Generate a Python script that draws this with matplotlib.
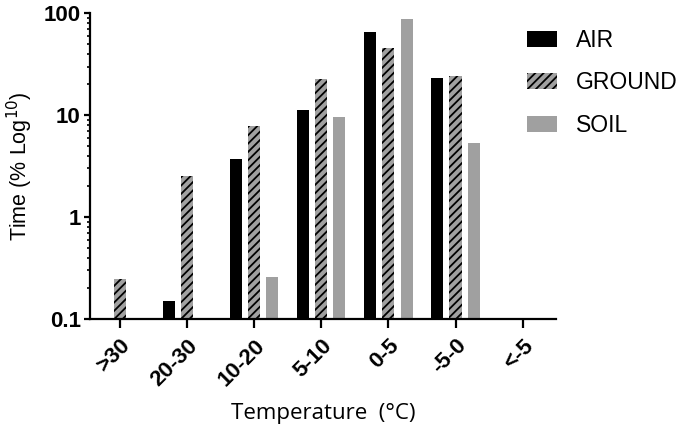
import numpy as np
import matplotlib.pyplot as plt
from matplotlib.ticker import LogLocator, NullFormatter

# Values (percent of time, log axis); NaN = no bar
categories = ['>30', '20-30', '10-20', '5-10', '0-5', '-5-0', '<-5']
air = [np.nan, 0.15, 3.7, 11.2, 65.0, 23.0, np.nan]
ground = [0.25, 2.55, 7.9, 22.4, 46.0, 24.0, np.nan]
soil = [np.nan, np.nan, 0.26, 9.6, 88.0, 5.3, np.nan]

plt.rcParams['font.family'] = ['Liberation Sans', 'DejaVu Sans']
plt.rcParams['hatch.linewidth'] = 1.3

fig = plt.figure(figsize=(6.85, 4.26), dpi=100)
ax = fig.add_axes([0.131, 0.251, 0.681, 0.718])
ax.set_yscale('log')

x = np.arange(len(categories))
w = 0.18
off = 0.27
grey = '#a0a0a0'


def draw(vals, shift, **kw):
    v = np.array(vals, dtype=float)
    m = ~np.isnan(v)
    return ax.bar(x[m] + shift, v[m], width=w, **kw)


b_air = draw(air, -off, color='black', linewidth=0)
b_gr = draw(ground, 0, facecolor=grey, edgecolor='black', linewidth=0, hatch='////')
b_so = draw(soil, off, color=grey, linewidth=0)

ax.set_ylim(0.1, 100)
ax.set_xlim(-0.45, 6.5)
ax.set_xticks(x)
ax.set_xticklabels(categories, rotation=45, ha='right', rotation_mode='anchor',
                   fontsize=16, fontweight='bold')
ax.set_yticks([0.1, 1, 10, 100])
ax.set_yticklabels(['0.1', '1', '10', '100'], fontsize=16, fontweight='bold')
ax.yaxis.set_minor_locator(LogLocator(base=10, subs=np.arange(2, 10)))
ax.yaxis.set_minor_formatter(NullFormatter())

for s in ['top', 'right']:
    ax.spines[s].set_visible(False)
for s in ['left', 'bottom']:
    ax.spines[s].set_linewidth(1.6)

ax.tick_params(axis='x', which='major', length=6.5, width=1.6, pad=5)
ax.tick_params(axis='y', which='major', length=4.5, width=1.6, pad=2)
ax.tick_params(axis='y', which='minor', length=2.5, width=1.2)

ax.set_ylabel('Time (% Log$^{10}$)', fontsize=15.5, labelpad=6)
ax.set_xlabel('Temperature  (°C)', fontsize=16, family=['Open Sans', 'DejaVu Sans'],
              labelpad=9)

fig.legend([b_air, b_gr, b_so], ['AIR', 'GROUND', 'SOIL'],
           loc='upper left', bbox_to_anchor=(0.769, 0.932), frameon=False,
           borderpad=0, borderaxespad=0,
           fontsize=16.5, handlelength=1.3, handleheight=0.7, labelspacing=0.85,
           handletextpad=0.85)

fig.savefig('out.png', dpi=100)
